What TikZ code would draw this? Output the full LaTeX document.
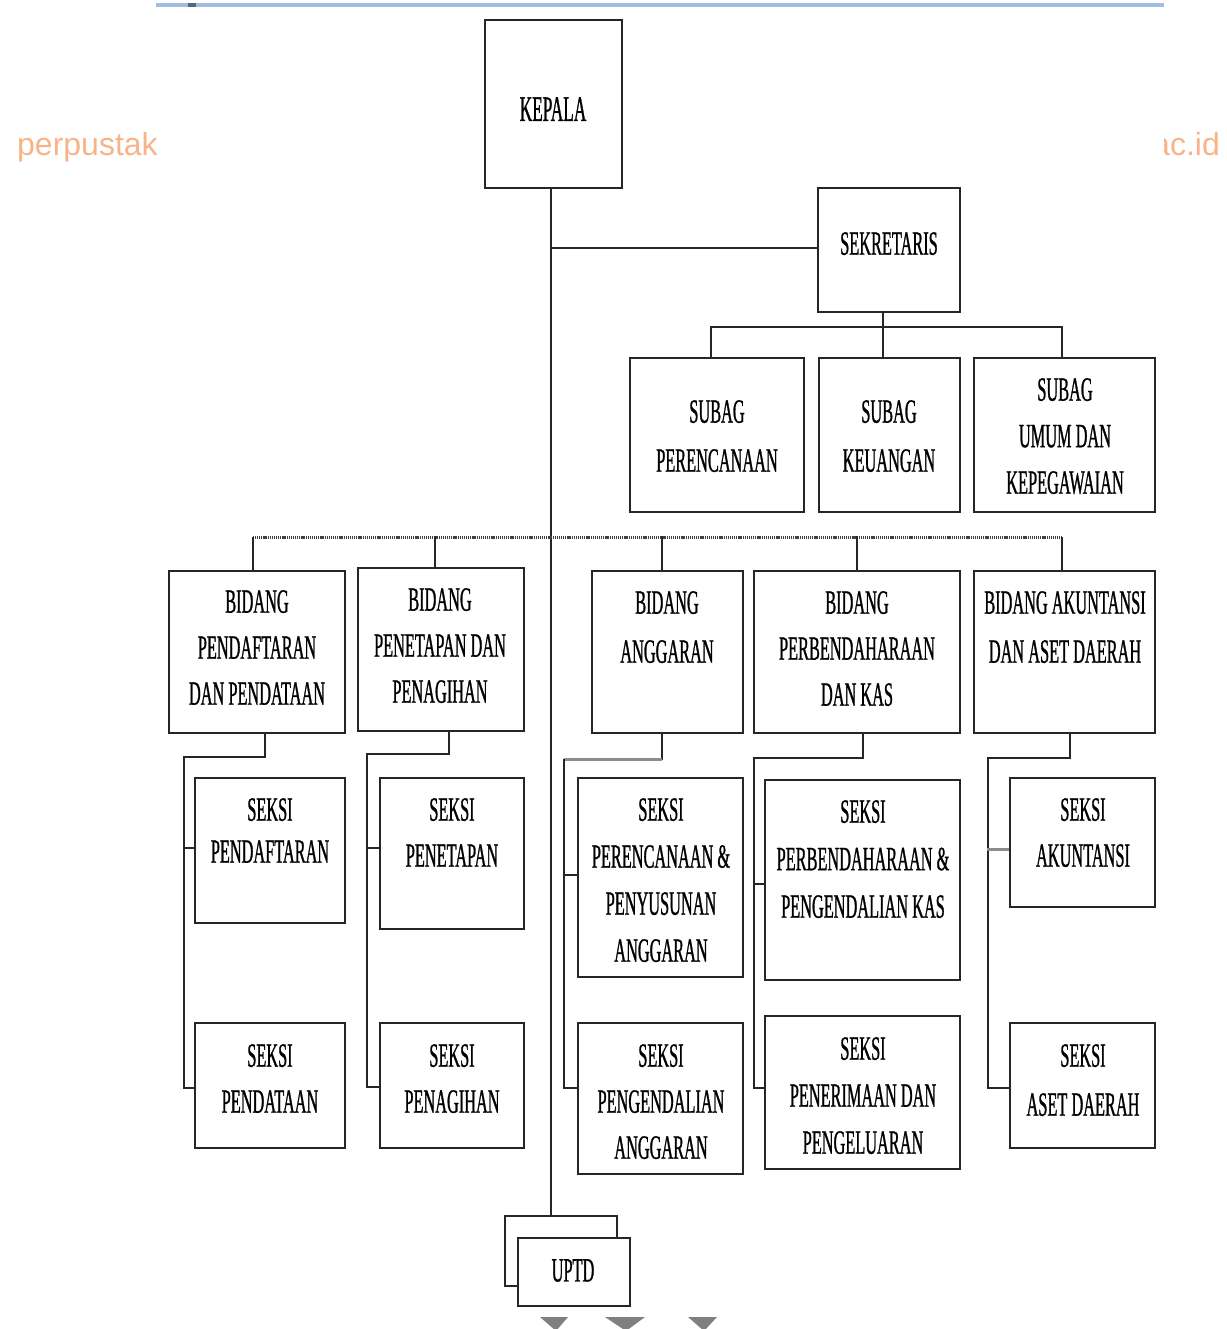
\documentclass[tikz,border=0pt]{standalone}
\usepackage{fontspec}
\setmainfont{Liberation Serif}
\newfontfamily\cond[FakeStretch=0.48,FakeBold=0.8]{Liberation Serif}
\newfontfamily\wmfont{Liberation Sans}
\definecolor{lineC}{HTML}{262626}
\definecolor{wmC}{HTML}{F8B488}
\definecolor{topC}{HTML}{9FBCE4}
\tikzset{
  box/.style={draw=lineC, line width=1.8pt, fill=white, inner sep=0pt},
  lbl/.style={font=\cond\fontsize{34}{46}\selectfont, align=center, inner sep=0pt, anchor=north, text=black},
  conn/.style={draw=lineC, line width=1.5pt},
  grayconn/.style={draw=black!45, line width=3pt},
  dotbar/.style={draw=black!75, line width=3pt, dash pattern=on 1.1pt off 0.8pt},
}
\begin{document}
\begin{tikzpicture}[x=1pt,y=-1pt]
\useasboundingbox (0,0) rectangle (1226,1329);
% page decorations
\draw[topC, line width=3.5pt] (156,5) -- (1164,5);
\fill[black!45!topC] (188,3) rectangle (196,7.5);
\node[font=\wmfont\fontsize{32}{32}\selectfont, text=wmC, anchor=base west, inner sep=0pt] (wmL) at (17,156) {perpustak};
\begin{scope}
\clip (1164,120) rectangle (1226,175);
\node[font=\wmfont\fontsize{32}{32}\selectfont, text=wmC, anchor=base east, inner sep=0pt] (wmR) at (1220,156) {ac.id};
\end{scope}
\fill[black!50] (540,1317) -- (568,1317) -- (556,1331) -- cycle;
\fill[black!50] (605,1317) -- (645,1317) -- (626,1331) -- cycle;
\fill[black!50] (688,1317) -- (717,1317) -- (704,1331) -- cycle;

% coordinates
\coordinate (tx) at (551,0);
\coordinate (c1) at (184,757);
\coordinate (c2) at (367,754);
\coordinate (c3) at (564,759);
\coordinate (c4) at (754,758);
\coordinate (c5) at (988,758);
\coordinate (dL) at (253,537);
\coordinate (dR) at (1062,537);

% boxes
\node[box, minimum width=137pt, minimum height=168pt] (kep) at (553.5,104) {};
\node[box, minimum width=142pt, minimum height=124pt] (sek) at (889,250) {};
\node[box, minimum width=174pt, minimum height=154pt] (sp) at (717,435) {};
\node[box, minimum width=141pt, minimum height=154pt] (sk) at (889.5,435) {};
\node[box, minimum width=181pt, minimum height=154pt] (su) at (1064.5,435) {};
\node[box, minimum width=176pt, minimum height=162pt] (b1) at (257,652) {};
\node[box, minimum width=166pt, minimum height=163pt] (b2) at (441,649.5) {};
\node[box, minimum width=151pt, minimum height=162pt] (b3) at (667.5,652) {};
\node[box, minimum width=206pt, minimum height=162pt] (b4) at (857,652) {};
\node[box, minimum width=181pt, minimum height=162pt] (b5) at (1064.5,652) {};
\node[box, minimum width=150pt, minimum height=145pt] (s11) at (270,850.5) {};
\node[box, minimum width=150pt, minimum height=125pt] (s12) at (270,1085.5) {};
\node[box, minimum width=144pt, minimum height=151pt] (s21) at (452,853.5) {};
\node[box, minimum width=144pt, minimum height=125pt] (s22) at (452,1085.5) {};
\node[box, minimum width=165pt, minimum height=199pt] (s31) at (660.5,877.5) {};
\node[box, minimum width=165pt, minimum height=151pt] (s32) at (660.5,1098.5) {};
\node[box, minimum width=195pt, minimum height=200pt] (s41) at (862.5,880) {};
\node[box, minimum width=195pt, minimum height=153pt] (s42) at (862.5,1092.5) {};
\node[box, minimum width=145pt, minimum height=129pt] (s51) at (1082.5,842.5) {};
\node[box, minimum width=145pt, minimum height=125pt] (s52) at (1082.5,1085.5) {};
\node[box, minimum width=112pt, minimum height=70pt] (uptdb) at (561,1251) {};
\node[box, minimum width=112pt, minimum height=68pt] (uptd) at (574,1272) {};

% texts
\node[lbl, font=\cond\fontsize{36}{46}\selectfont] (tkep) at (553,97) {KEPALA};
\node[lbl] (tsek) at (889,232) {SEKRETARIS};
\node[lbl, font=\cond\fontsize{34}{49}\selectfont] (tsp) at (717,400) {SUBAG\\PERENCANAAN};
\node[lbl, font=\cond\fontsize{34}{49}\selectfont] (tsk) at (889,400) {SUBAG\\KEUANGAN};
\node[lbl, font=\cond\fontsize{34}{46.5}\selectfont] (tsu) at (1065,378) {SUBAG\\UMUM DAN\\KEPEGAWAIAN};
\node[lbl] (tb1) at (257,590) {BIDANG\\PENDAFTARAN\\DAN PENDATAAN};
\node[lbl] (tb2) at (440,588) {BIDANG\\PENETAPAN DAN\\PENAGIHAN};
\node[lbl, font=\cond\fontsize{34}{49}\selectfont] (tb3) at (667,591) {BIDANG\\ANGGARAN};
\node[lbl] (tb4) at (857,591) {BIDANG\\PERBENDAHARAAN\\DAN KAS};
\node[lbl, font=\cond\fontsize{34}{49}\selectfont] (tb5) at (1065,591) {BIDANG AKUNTANSI\\DAN ASET DAERAH};
\node[lbl, font=\cond\fontsize{34}{42}\selectfont] (ts11) at (270,798) {SEKSI\\PENDAFTARAN};
\node[lbl] (ts12) at (270,1044) {SEKSI\\PENDATAAN};
\node[lbl] (ts21) at (452,798) {SEKSI\\PENETAPAN};
\node[lbl] (ts22) at (452,1044) {SEKSI\\PENAGIHAN};
\node[lbl, font=\cond\fontsize{34}{47}\selectfont] (ts31) at (661,798) {SEKSI\\PERENCANAAN \&\\PENYUSUNAN\\ANGGARAN};
\node[lbl] (ts32) at (661,1044) {SEKSI\\PENGENDALIAN\\ANGGARAN};
\node[lbl, font=\cond\fontsize{34}{47.5}\selectfont] (ts41) at (863,800) {SEKSI\\PERBENDAHARAAN \&\\PENGENDALIAN KAS};
\node[lbl, font=\cond\fontsize{34}{47}\selectfont] (ts42) at (863,1037) {SEKSI\\PENERIMAAN DAN\\PENGELUARAN};
\node[lbl] (ts51) at (1083,798) {SEKSI\\AKUNTANSI};
\node[lbl, font=\cond\fontsize{34}{49}\selectfont] (ts52) at (1083,1044) {SEKSI\\ASET DAERAH};
\node[lbl] (tuptd) at (573,1259) {UPTD};

% connectors: top
\draw[conn] (kep.south -| tx) -- (uptdb.north -| tx);
\draw[conn] ([yshift=2pt]sek.west -| tx) -- ([yshift=2pt]sek.west);
\draw[conn] ([xshift=-6pt]sek.south) -- ([xshift=-6.5pt]sk.north);
\draw[conn] ([xshift=-6pt]sp.north) -- ++(0,-30) -| ([xshift=-2.5pt]su.north);

% bidang bar
\draw[dotbar] (dL) -- (dR);
\draw[conn] ([xshift=-4pt]b1.north) -- (dL);
\draw[conn] ([xshift=-6pt]b2.north) -- ++(0,-31);
\draw[conn] ([xshift=-5.5pt]b3.north) -- ++(0,-34);
\draw[conn] (b4.north) -- ++(0,-34);
\draw[conn] ([xshift=-2.5pt]b5.north) -- (dR);

% seksi connectors
\draw[conn] ([xshift=8pt]b1.south) |- (c1) |- ([yshift=-2.5pt]s12.west);
\draw[conn] ([yshift=2.5pt]s11.west) -- ++(-11,0);

\draw[conn] ([xshift=8pt]b2.south) |- (c2) |- ([yshift=-1.5pt]s22.west);
\draw[conn] ([yshift=5.5pt]s21.west) -- ++(-13,0);

\draw[conn] ([xshift=-5.5pt]b3.south) |- (c3);
\draw[grayconn] ([xshift=-5.5pt]b3.south |- c3) -- (c3);
\draw[conn] (c3) |- ([yshift=10.5pt]s32.west);
\draw[conn] ([yshift=2.5pt]s31.west) -- ++(-14,0);

\draw[conn] ([xshift=6pt]b4.south) |- (c4) |- ([yshift=4.5pt]s42.west);
\draw[conn] ([yshift=-4pt]s41.west) -- ++(-11,0);

\draw[conn] ([xshift=5.5pt]b5.south) |- (c5) |- ([yshift=-2.5pt]s52.west);
\draw[grayconn] ([yshift=-6.5pt]s51.west) -- ++(-22,0);
\end{tikzpicture}
\end{document}
